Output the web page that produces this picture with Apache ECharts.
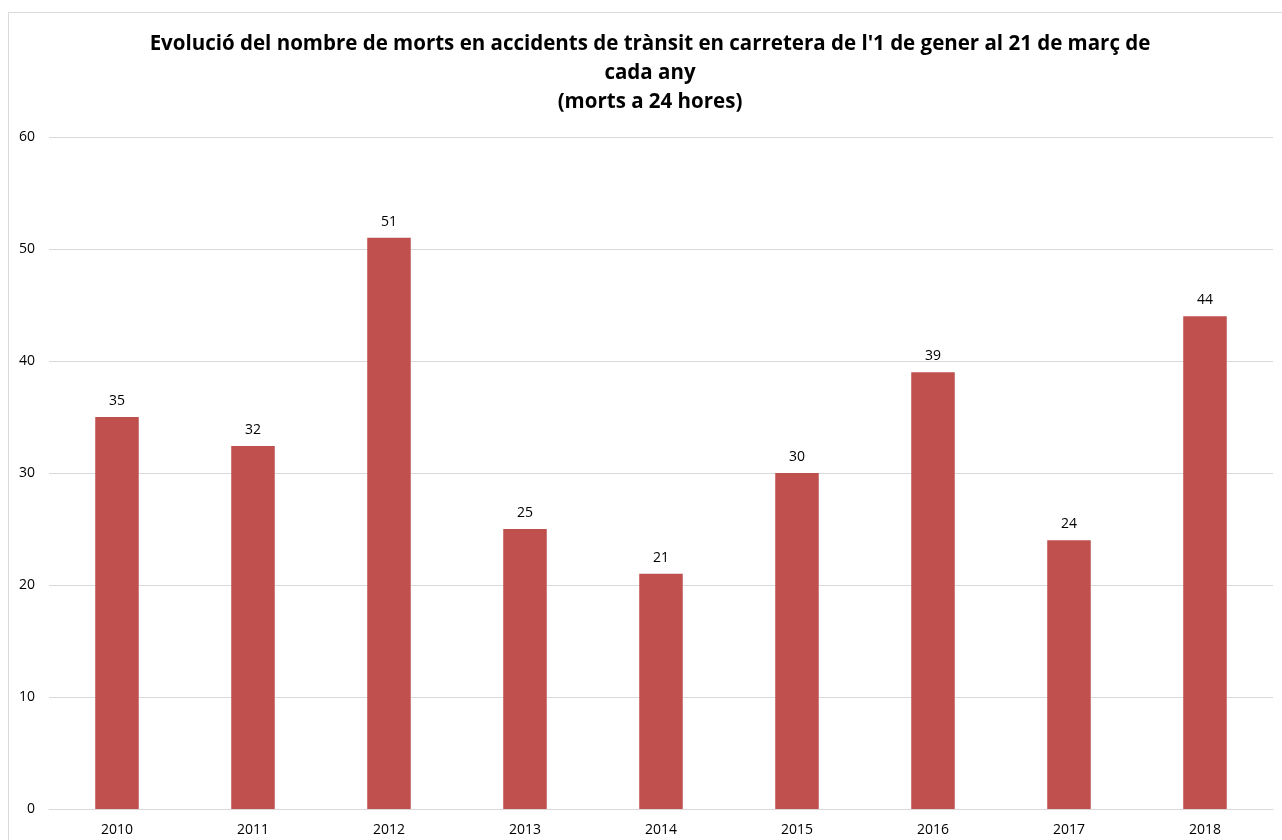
<!DOCTYPE html>
<html><head><meta charset="utf-8">
<script src="https://cdn.jsdelivr.net/npm/echarts@6/dist/echarts.min.js"></script>
<style>
html,body{margin:0;padding:0;background:#fff;overflow:hidden}
#frame{position:absolute;left:8px;top:12px;width:1300px;height:900px;border:1px solid #d9d9d9;box-sizing:border-box}
#c{position:absolute;left:0;top:0;width:1282px;height:840px}
</style></head>
<body>
<div id="frame"></div>
<div id="c"></div>
<script>
const categories = ['2010','2011','2012','2013','2014','2015','2016','2017','2018'];
const deaths = [35, 32.4, 51, 25, 21, 30, 39, 24, 44];
const yTicks = {min: 0, max: 60, interval: 10};
const titleLines = ["Evolució del nombre de morts en accidents de trànsit en carretera de l'1 de gener al 21 de març de", "cada any", "(morts a 24 hores)"];

const chart = echarts.init(document.getElementById('c'));
chart.setOption({
  backgroundColor: 'transparent',
  animation: false,
  graphic: [{
    type: 'text', x: 650, y: 30,
    style: {
      text: titleLines.join('\n'), align: 'center', verticalAlign: 'top',
      fontFamily: 'Open Sans', fontWeight: 'bold', fontSize: 20.5, fill: '#000', lineHeight: 29
    }
  }],
  grid: {left: 49, right: 9, top: 137, bottom: 31},
  xAxis: {
    type: 'category', data: categories,
    axisLine: {lineStyle: {color: '#d9d9d9'}},
    axisTick: {show: false},
    axisLabel: {color: '#000', fontSize: 14, fontFamily: 'Open Sans', margin: 14}
  },
  yAxis: {
    type: 'value', min: yTicks.min, max: yTicks.max, interval: yTicks.interval,
    axisLine: {show: false}, axisTick: {show: false},
    splitLine: {lineStyle: {color: '#d9d9d9'}},
    axisLabel: {color: '#000', fontSize: 14, fontFamily: 'Open Sans', margin: 14}
  },
  series: [{
    type: 'bar', data: deaths, barWidth: '32%',
    itemStyle: {color: '#c0504d'},
    label: {show: true, position: 'top', distance: 9, color: '#000', fontSize: 14, fontFamily: 'Open Sans',
      formatter: p => Math.round(p.value)}
  }]
});
</script>
</body></html>
